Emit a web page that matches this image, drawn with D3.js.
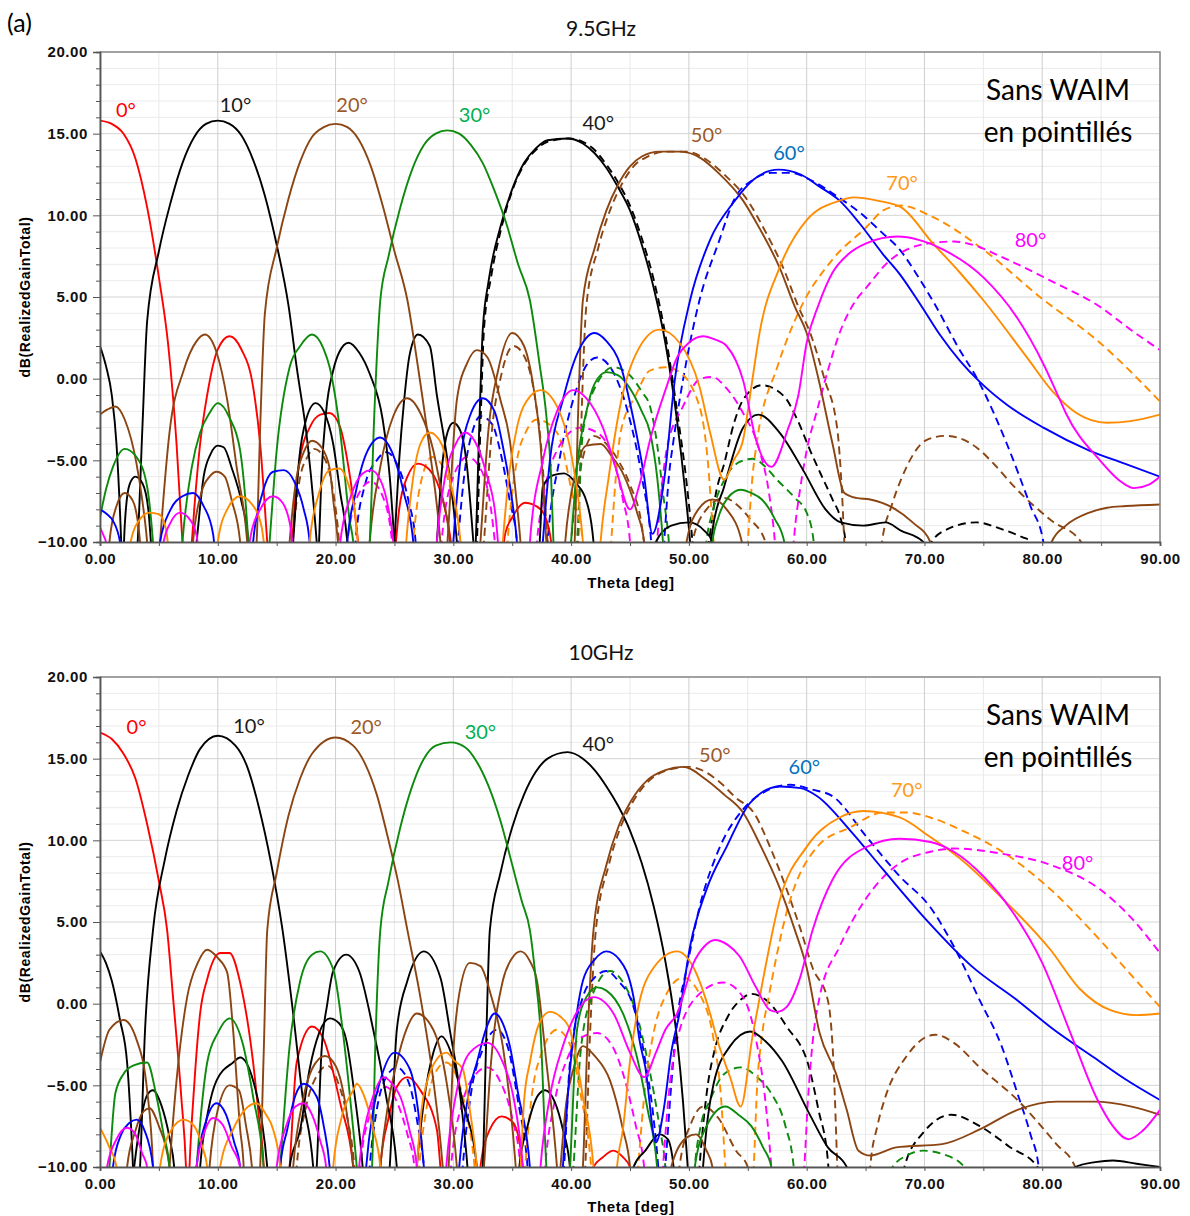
<!DOCTYPE html>
<html><head><meta charset="utf-8">
<script src="https://cdn.jsdelivr.net/npm/d3@7"></script>
<style>body{margin:0;background:#fff;} svg{display:block;}</style>
</head><body><svg id="c" width="1190" height="1216"></svg>
<script>
// ---------- axis / label data ----------
const thetaMajor = [0,10,20,30,40,50,60,70,80,90];
const thetaMinor = [0,5,10,15,20,25,30,35,40,45,50,55,60,65,70,75,80,85,90];
const dbMajor = [-10,-5,0,5,10,15,20];
const dbMinor = d3.range(-10,21,1);
const panelTitles = ["9.5GHz","10GHz"];
const scanLabels = ["0°","10°","20°","30°","40°","50°","60°","70°","80°"];
const topLabelPos = [[2.2,16.0],[11.5,16.3],[21.4,16.3],[31.8,15.7],[42.3,15.2],[51.5,14.5],[58.5,13.4],[68.1,11.55],[79,8.06]];
const botLabelPos = [[3.1,16.5],[12.65,16.6],[22.6,16.5],[32.3,16.2],[42.3,15.5],[52.2,14.8],[59.8,14.06],[68.5,12.65],[83,8.2]];
const noteLines = ["Sans WAIM","en pointillés"];

// ---------- 9.5 GHz (top) : each array = list of lobes of [theta, dB] ----------
const T_red = [
 [[0,15.8],[1,15.6],[2,15.0],[3,13.5],[4,10.5],[5,6.2],[5.8,2],[6.5,-4],[7.0,-10],[7.2,-12]],
 [[7.6,-12],[8.0,-8],[8.5,-4],[9.1,-1],[10,1.8],[11,2.6],[12,1.8],[13,-0.5],[13.6,-4],[14.2,-10],[14.4,-12]],
 [[16.2,-12],[16.5,-8],[17,-4.8],[17.8,-3],[18.7,-2.2],[19.5,-2.1],[20.4,-3],[21,-5],[21.5,-7.4],[22.2,-12]],
 [[24.9,-12],[25.4,-8],[26.1,-6],[27,-5.2],[28,-5.6],[29.1,-7.4],[29.8,-10],[30.1,-12]],
 [[34,-12],[34.4,-9.5],[35,-8.5],[36.1,-7.6],[37.4,-8],[38.2,-9.5],[38.6,-12]]
];
const T_black = [
 [[0,2],[0.5,0.8],[1,-1],[1.4,-4],[1.8,-10],[1.9,-12]],
 [[1.95,-12],[2.1,-9],[2.5,-6.5],[3,-6],[3.6,-6.4],[4.1,-8],[4.5,-12]],
 [[3.0,-12],[3.2,-10],[3.6,-3],[4.0,3.5],[5,7.8],[6,10.8],[7,13.2],[8,14.8],[9,15.6],[10,15.8],[11,15.6],[12,14.9],[13,13.4],[14,11.2],[15,8.2],[16,4.5],[16.7,0.7],[17.6,-3.8],[18.4,-10],[18.6,-12]],
 [[7.9,-12],[8.2,-10],[8.8,-6],[9.4,-4.6],[10,-4.1],[10.5,-4.2],[11.2,-5.5],[12,-7.5],[12.6,-10],[12.8,-12]],
 [[16.2,-12],[16.4,-10],[16.9,-5],[17.5,-2.5],[18.3,-1.5],[19,-2],[19.8,-4],[20.4,-7],[21,-10],[21.2,-12]],
 [[18.5,-12],[18.8,-6],[19.2,-2],[19.8,0.5],[20.3,1.6],[21.1,2.2],[22,1.6],[22.9,0.3],[24,-2.5],[24.6,-6],[25,-10],[25.2,-12]],
 [[24.8,-12],[25,-10],[25.4,-5],[25.8,-1.5],[26.3,1.5],[27,2.7],[28,2],[28.6,-1],[29.5,-5],[30.3,-10],[30.5,-12]],
 [[28.4,-12],[28.6,-10],[29.1,-5],[29.5,-3.3],[30,-2.7],[30.6,-3.2],[31.1,-5],[31.7,-10],[31.9,-12]],
 [[31.7,-12],[31.9,-10],[32.2,-3],[32.5,3],[33,6],[34,9.3],[35,11.6],[36,13.2],[37,14.1],[38,14.6],[39.7,14.7],[41,14.4],[42,13.8],[43,12.9],[44,11.7],[45,10.3],[46,8.2],[47,5.6],[48,2.2],[49,-2.6],[49.7,-7],[50.1,-10],[50.3,-12]],
 [[37.2,-12],[37.4,-9],[37.6,-6.6],[38.5,-5.9],[39.4,-5.8],[40.4,-6.4],[41.3,-7.5],[41.9,-10],[42.1,-12]],
 [[46.8,-12],[47.2,-10],[48.5,-9],[50,-8.8],[51.3,-9.3],[52,-10],[52.3,-12]],
 [[51.6,-12],[52,-9.3],[53,-6.6],[54.6,-3],[55.9,-2.2],[57.7,-3.3],[59.7,-5.6],[61.6,-8],[62.9,-8.8],[64.8,-9],[66.7,-8.8],[68,-9.3],[69.9,-10],[70.2,-12]]
];
const T_black_d = [
 [[31.8,-12],[32,-10],[32.3,-3],[32.6,3],[33.2,6.2],[34,9],[35,11.5],[36,13.1],[37,14],[38,14.5],[39.8,14.7],[41,14.5],[42,14],[43,13.1],[44,12],[45,10.6],[46,8.6],[47,6.1],[48,2.7],[49,-2],[49.9,-7],[50.3,-10],[50.5,-12]],
 [[51.3,-12],[51.7,-10],[52.3,-7],[53,-5.2],[53.8,-2.8],[54.6,-1.3],[56.2,-0.4],[58.1,-1.1],[59.2,-2.5],[60.3,-4.4],[61.3,-6],[62.2,-7.4],[62.9,-8.6],[63.3,-10],[63.5,-12]],
 [[70.3,-12],[70.6,-10],[72,-9.2],[74.4,-8.8],[76.5,-9.2],[78.3,-9.7],[79.1,-10],[79.3,-12]]
];
const T_brown = [
 [[0,-2.2],[0.6,-1.9],[1.3,-1.7],[2.1,-2.5],[3.1,-5.2],[3.6,-7.5],[4,-10],[4.2,-12]],
 [[0.6,-12],[0.8,-10],[1.4,-7.8],[2.1,-7],[2.8,-7.5],[3.4,-10],[3.6,-12]],
 [[4.9,-12],[5.1,-10],[5.9,-3.3],[7.1,0.5],[8.2,2.3],[8.9,2.7],[9.9,1.6],[10.8,-1.3],[11.6,-5.4],[12.5,-10],[12.7,-12]],
 [[7.7,-12],[7.9,-10],[8.6,-7],[9.3,-6],[9.9,-5.7],[10.6,-6],[11.2,-7.5],[11.9,-10],[12.1,-12]],
 [[13.1,-12],[13.3,-10],[13.6,-3],[14,4],[15,8],[16,11],[17,13.3],[18,14.8],[19,15.4],[20,15.6],[21,15.4],[22,14.6],[23,13],[24,10.6],[25,7.8],[26.1,4.8],[27,0.7],[28,-4.4],[28.9,-10],[29.1,-12]],
 [[15.9,-12],[16.1,-10],[16.7,-6],[17.3,-4.5],[18,-3.8],[18.8,-4.2],[19.5,-5.5],[19.8,-7.4],[20.2,-10],[20.4,-12]],
 [[22.7,-12],[22.9,-10],[23.8,-5.4],[24.9,-2.3],[26.1,-1.2],[27.2,-2.1],[28.3,-4.4],[29,-7],[29.7,-10],[29.9,-12]],
 [[29.3,-12],[29.5,-10],[30.3,-1.3],[31.2,1],[32,1.75],[32.9,1.3],[34,-1.3],[34.8,-3.8],[35.3,-7],[35.7,-10],[35.9,-12]],
 [[32.1,-12],[32.3,-10],[33,-3],[33.8,0.5],[35,2.8],[36,2],[36.8,-0.5],[37.4,-4],[37.9,-10],[38.1,-12]],
 [[39.3,-12],[39.5,-10],[40.3,-6],[41.3,-4.1],[42.5,-4],[43.5,-4.8],[44.4,-5.8],[45.6,-8.2],[46.2,-10],[46.4,-12]],
 [[40.1,-12],[40.3,-10],[40.6,-2],[41,4.8],[42,8],[43,10.3],[44,11.9],[45,13],[46,13.6],[47.5,13.9],[49.3,13.9],[51,13.5],[52.5,12.6],[54.6,10.9],[56,9.2],[57.7,6.8],[59,4.4],[60,2.8],[61,0],[62.2,-4],[63.2,-7],[64.2,-7.3],[65.4,-7.4],[67.3,-7.9],[69,-8.8],[70.5,-10],[70.7,-12]],
 [[49.5,-12],[49.8,-10],[50.8,-8],[52,-7.4],[53.2,-8],[54.5,-10],[54.7,-12]],
 [[80.5,-12],[80.8,-10],[82,-9],[84,-8.2],[85.5,-7.9],[87.1,-7.8],[90,-7.7]]
];
const T_brown_d = [
 [[40.4,-12],[40.6,-10],[40.9,-2],[41.3,4.5],[42.3,8],[43.3,10.3],[44.3,11.9],[45.3,13],[46.5,13.6],[48,13.9],[49.8,13.9],[51.5,13.4],[53,12.5],[55,10.9],[56.5,9],[58,6.8],[59.3,4.4],[60.3,2.8],[61.5,0],[62.6,-3.1],[63,-7],[63.2,-10],[63.4,-12]],
 [[66.2,-12],[66.4,-10],[67.2,-7.8],[68,-6.2],[70.2,-3.75],[71.8,-3.5],[74.4,-4.2],[76,-5.3],[77.6,-6.6],[80.8,-8.7],[83.3,-10],[83.6,-12]],
 [[49.9,-12],[50.3,-10],[51.5,-8],[53,-7.3],[54.2,-7.8],[55.2,-8.6],[56.5,-10],[56.7,-12]],
 [[32.4,-12],[32.6,-10],[33.3,-3],[34,0],[35.1,2],[36,1.4],[36.9,-1],[37.5,-4.5],[38,-10],[38.2,-12]],
 [[39.8,-12],[40,-10],[40.8,-5.5],[41.9,-3.5],[43,-4],[44,-5],[45,-6.5],[46,-9],[46.5,-12]],
 [[16,-12],[16.3,-10],[17,-6],[17.6,-4.8],[18.2,-4.3],[19,-4.8],[19.7,-6.5],[20.3,-10],[20.5,-12]]
];
const T_green = [
 [[0,-8.5],[0.5,-6.8],[1.1,-5.4],[2.1,-4.3],[3.1,-4.8],[4,-6.6],[4.5,-10],[4.7,-12]],
 [[6.8,-12],[7,-10],[7.8,-5.4],[8.5,-3.3],[9.3,-2.1],[10,-1.5],[11,-2.4],[11.9,-4.4],[12.3,-7],[12.6,-10],[12.8,-12]],
 [[14.2,-12],[14.4,-10],[15,-4.4],[16.1,0.7],[17,2],[18,2.7],[19,1.8],[19.5,0.7],[20.4,-3.3],[21.2,-8.7],[21.5,-10],[21.7,-12]],
 [[22.7,-12],[22.9,-10],[23.3,-2],[23.8,4.8],[24.5,7.5],[25.5,10.5],[26.5,12.8],[27.5,14.3],[28.5,15],[29.5,15.2],[30.5,15],[31.5,14.3],[32.5,13.2],[33.5,11.5],[34.5,9.5],[35.5,7],[36.5,4.8],[37.3,1],[37.9,-2.3],[38.3,-6],[38.5,-10],[38.7,-12]],
 [[39.8,-12],[40,-10],[40.5,-5.4],[41.3,-2],[42,-0.3],[43,0.4],[44,0.2],[45,-0.6],[46,-2],[46.7,-3.3],[47.3,-6],[47.8,-10],[48,-12]],
 [[51.8,-12],[52,-10],[52.5,-8.5],[53.3,-7.3],[54.4,-6.8],[55.3,-7],[56.2,-7.4],[57.3,-8.6],[58.1,-10],[58.3,-12]]
];
const T_green_d = [
 [[40.3,-12],[40.5,-10],[41,-3.3],[42.2,-0.3],[43.6,0.7],[45,0.2],[46,-0.8],[46.7,-1.7],[47.3,-4],[47.8,-7],[48.3,-10],[48.5,-12]],
 [[51.3,-12],[51.5,-10],[52,-8.2],[53,-6.2],[54.3,-5.1],[55.4,-4.9],[56.5,-5.4],[57.5,-6.2],[59,-7.3],[60,-8.2],[60.6,-10],[60.8,-12]]
];
const T_blue = [
 [[0,-8],[0.6,-8.3],[1.1,-8.7],[1.7,-10],[1.9,-12]],
 [[4.9,-12],[5.1,-10],[6,-8],[7,-7.2],[7.9,-7],[8.8,-7.8],[9.6,-9.5],[9.9,-12]],
 [[12.8,-12],[13,-10],[13.8,-7],[14.7,-5.7],[15.6,-5.6],[16.5,-6.3],[17.3,-8],[17.8,-10],[18,-12]],
 [[20.8,-12],[21,-10],[21.7,-7],[22.6,-4.6],[23.8,-3.6],[24.8,-4.5],[25.8,-7],[26.6,-10],[26.8,-12]],
 [[29.8,-12],[30,-10],[30.6,-5],[31.4,-2.3],[32.5,-1.2],[33.5,-2],[34.3,-4.5],[35,-7.5],[35.4,-10],[35.6,-12]],
 [[37.4,-12],[37.6,-10],[38.2,-5],[39.3,-1.3],[40.5,1.5],[42,2.8],[43,2.3],[44.2,0.8],[45.3,-2.5],[46.2,-6],[46.9,-9.5],[47.9,-6.2],[48.8,-0.1],[50.1,4.8],[51.8,8.5],[53.8,10.8],[55.5,12.2],[57.6,12.8],[59.5,12.5],[61,11.8],[62.8,10.9],[64.5,9.5],[66.5,7.6],[67.9,6.4],[69.6,4.6],[71.3,2.7],[73,1.1],[74.7,-0.2],[77,-1.6],[80.1,-3],[84,-4.4],[87,-5.2],[90,-6]]
];
const T_blue_d = [
 [[21.5,-12],[21.7,-10],[22.5,-6.5],[23.5,-5],[24.3,-4.5],[25.2,-5.2],[26.2,-7.5],[26.8,-10],[27,-12]],
 [[30.2,-12],[30.4,-10],[31,-5.5],[31.6,-3.3],[32.3,-2.3],[33.3,-2.8],[34,-4.5],[34.8,-7.5],[35.4,-10],[35.6,-12]],
 [[37.8,-12],[38,-10],[39,-5],[40.3,-1],[41.2,0.7],[42.2,1.3],[43.5,0.5],[44.8,-2],[46,-6],[46.8,-10],[47,-12]],
 [[47.7,-12],[47.9,-10],[48.3,-6],[48.7,-3.75],[49.8,1.1],[50.9,4.8],[52.6,8.5],[53.8,10.9],[55.5,12.2],[57,12.6],[58.6,12.6],[60.5,12.1],[62.5,11.2],[64.8,10.0],[66.3,9],[67.9,7.9],[69.5,6.2],[71,4.4],[72.8,2],[74.7,-0.3],[77,-4],[79,-7.8],[80.1,-10],[80.3,-12]]
];
const T_orange = [
 [[2.4,-12],[2.6,-10],[3.4,-8.6],[4.2,-8.2],[5,-8.3],[5.6,-9.2],[6,-12]],
 [[9.8,-12],[10,-10],[10.8,-8],[11.9,-7.2],[12.8,-7.6],[13.7,-9],[14.2,-12]],
 [[17.6,-12],[17.8,-10],[18.6,-7],[19.5,-5.6],[20.3,-5.5],[21.1,-6.5],[21.7,-8.5],[22.1,-12]],
 [[25.8,-12],[26,-10],[26.6,-6],[27.2,-4],[28,-3.3],[29,-4],[29.8,-6.5],[30.6,-10],[30.8,-12]],
 [[34,-12],[34.2,-10],[34.8,-5.5],[35.4,-3],[36.5,-1.1],[37.4,-0.7],[38.8,-1.7],[40.2,-5.4],[41,-10],[41.2,-12]],
 [[42.3,-12],[42.5,-10],[43.2,-6],[44.1,-1.9],[45.5,1.5],[47.5,3],[49.2,2.2],[50.9,-0.5],[51.8,-3.3],[53,-6.2],[53.8,-5],[54.6,-3.75],[55.3,-0.5],[56,2.8],[57.7,6.8],[60,9.7],[62.8,10.9],[64,11.1],[66,10.9],[68,10.5],[70.7,8.3],[73,6.5],[75,4.8],[78.7,1.3],[80.9,-0.8],[82.9,-2.1],[85.5,-2.7],[87.5,-2.6],[90,-2.2]]
];
const T_orange_d = [
 [[26.4,-12],[26.6,-10],[27.2,-6.5],[28.2,-4.8],[29.2,-5.5],[30,-7.5],[30.6,-10],[30.8,-12]],
 [[34.4,-12],[34.6,-10],[35.4,-5],[36.2,-3.2],[37.1,-2.5],[38.8,-3.3],[40.2,-7.4],[41,-10],[41.2,-12]],
 [[43.2,-12],[43.4,-10],[43.8,-6],[44.2,-3.3],[45.5,-1],[46.7,0.5],[48,0.7],[49,0.5],[50.9,-1.7],[51.6,-5],[52.1,-10],[52.3,-12]],
 [[54.8,-12],[55,-10],[55.4,-6],[55.8,-3.75],[57.5,0.7],[59.4,4.2],[62.2,7.3],[65.1,9.3],[66.5,10.3],[68,10.6],[70.7,9.9],[75,7.9],[79.8,5],[84.9,2.2],[90,-1.4]]
];
const T_magenta = [
 [[0,-9.1],[0.3,-9.6],[0.5,-10],[0.7,-12]],
 [[5.2,-12],[5.4,-10],[6,-8.8],[6.8,-8.2],[7.6,-8.6],[8.2,-9.6],[8.5,-12]],
 [[12.5,-12],[12.7,-10],[13.6,-8],[14.7,-7.2],[15.5,-7.6],[16.2,-9.2],[16.5,-12]],
 [[20.2,-12],[20.4,-10],[21.3,-7.2],[22.3,-5.8],[23,-5.6],[23.8,-6.2],[24.5,-8],[24.9,-10],[25.1,-12]],
 [[28.4,-12],[28.6,-10],[29.3,-6],[30.2,-4],[31,-3.3],[31.8,-3.8],[32.8,-5.8],[33.6,-8.5],[34,-12]],
 [[36.3,-12],[36.5,-10],[37.6,-5],[38.8,-2],[40.2,-0.7],[41.3,-1.2],[42.7,-3],[43.8,-5.5],[45,-8],[45.8,-6.5],[46.7,-3.75],[48.1,-0.5],[49,1.3],[50,2.2],[51.2,2.6],[52.2,2.4],[53.2,2],[54.6,-0.1],[55.7,-3.75],[57,-5.4],[58.4,-3.1],[59.3,-1],[60,2.2],[61,4.5],[62.2,6.5],[63.5,7.6],[65.1,8.3],[67.7,8.7],[69.5,8.5],[71.6,7.9],[75,6.2],[77.8,3.8],[80.1,0.9],[81.5,-1.3],[82,-2.1],[84.9,-5],[86.5,-6.2],[87.8,-6.7],[89,-6.5],[90,-6]]
];
const T_magenta_d = [
 [[20.7,-12],[21,-10],[22,-7],[23,-6.3],[24,-7.2],[24.8,-10],[25,-12]],
 [[28.8,-12],[29,-10],[30,-6],[31.2,-4.8],[32.3,-5.5],[33.2,-8],[33.8,-12]],
 [[36.9,-12],[37.1,-10],[37.6,-7.4],[38.8,-4.4],[40.8,-3],[42.2,-3.3],[43.6,-5],[44.4,-7.4],[45,-10],[45.2,-12]],
 [[47.1,-12],[47.3,-10],[48.1,-4.4],[49.5,-1.7],[51,0],[52,0.1],[53.2,-0.6],[54.6,-2.1],[56,-4.4],[56.8,-7],[57.3,-10],[57.5,-12]],
 [[58.7,-12],[58.9,-10],[59.5,-6.5],[60,-4.4],[60.9,-1.9],[61.8,0.5],[62.8,2.8],[64,4.6],[65.1,5.6],[67,7.2],[68.5,7.9],[70.5,8.3],[72.5,8.4],[74.5,8.1],[76.4,7.5],[78.5,6.8],[80.7,6],[84.9,4.4],[87.5,3],[90,1.75]]
];

// ---------- 10 GHz (bottom) ----------
const B_red = [
 [[0,16.6],[1,16.2],[2,15.3],[3,13.8],[4,11],[5,7.5],[5.7,4.5],[6.2,0.4],[6.9,-5.7],[7.3,-10],[7.4,-12]],
 [[7.5,-12],[7.6,-10],[8,-5],[8.5,-0.6],[9.1,1.5],[10.2,3.1],[11,3.1],[11.9,1.3],[13,-3.6],[13.5,-7],[13.9,-10],[14,-12]],
 [[15.9,-12],[16.1,-10],[16.7,-3.6],[18,-1.4],[19,-2.2],[20.4,-6.1],[21.5,-10],[21.7,-12]],
 [[23.6,-12],[23.8,-10],[24.5,-7],[25.2,-5.1],[26.1,-4.5],[27.2,-5.3],[28.6,-7.7],[28.9,-10],[29.1,-12]],
 [[32.1,-12],[32.3,-10],[33.1,-7.7],[34.1,-6.9],[35.1,-7.3],[35.9,-10],[36.1,-12]],
 [[41.7,-12],[41.9,-10],[42.7,-9.4],[43.6,-9],[44.4,-9.4],[45,-10],[45.2,-12]]
];
const B_black = [
 [[0,3.2],[0.5,2.5],[1,1.4],[1.7,-1],[2.3,-3.6],[2.6,-7],[2.8,-10],[2.9,-12]],
 [[2.6,-12],[2.9,-10],[3.5,-7],[4.0,-5.6],[4.5,-5.3],[5.2,-6.2],[5.9,-8.2],[6.3,-10],[6.5,-12]],
 [[3.2,-12],[3.4,-10],[3.8,-2],[4.5,4.5],[5.5,8.8],[6.5,11.8],[7.5,14],[8.5,15.6],[10,16.4],[11.5,15.8],[12.5,14.5],[13.5,12],[14.5,8.7],[15.5,4.5],[16.4,-0.6],[17.2,-5.7],[18.1,-10],[18.3,-12]],
 [[8.3,-12],[8.5,-10],[9.2,-6.5],[9.9,-4.7],[11.3,-3.6],[11.9,-3.3],[13,-4.7],[13.7,-7],[14.2,-10],[14.4,-12]],
 [[15.9,-12],[16.1,-10],[17,-7.7],[17.8,-4],[18.6,-1.8],[19.5,-0.9],[20.3,-1.2],[20.9,-2.2],[21.6,-5.5],[22.3,-10],[22.5,-12]],
 [[18.2,-12],[18.4,-10],[18.8,-3],[19.3,0],[19.8,2],[20.9,3],[22,2],[23.2,-1.6],[24.3,-5.7],[25.2,-10],[25.4,-12]],
 [[24.4,-12],[24.6,-10],[25.2,-1.6],[26.1,1.4],[27.5,3.2],[28.9,1.6],[29.7,-1.6],[30.6,-5.7],[31.2,-10],[31.4,-12]],
 [[26.7,-12],[26.9,-10],[27.5,-6],[28.3,-3],[29,-2],[29.8,-3],[30.8,-6],[32,-10],[32.2,-12]],
 [[32.3,-12],[32.5,-10],[32.8,-2],[33.1,4.5],[34,8],[35,10.8],[36,12.8],[37,14.2],[38,15],[39.7,15.4],[41,15.0],[42,14.3],[43,13.3],[44,12.1],[45,10.6],[46,8.6],[47,6],[48,2.6],[49,-2.2],[49.5,-6],[49.9,-10],[50.1,-12]],
 [[35.4,-12],[35.6,-10],[36.3,-7.5],[37.2,-5.6],[37.8,-5.3],[38.6,-6],[39.3,-7.7],[39.9,-10],[40.1,-12]],
 [[45.1,-12],[45.3,-10],[46.3,-9],[47.5,-8],[48.2,-8.3],[48.7,-10],[48.9,-12]],
 [[51,-12],[51.2,-10],[51.6,-7],[52.1,-4.9],[53.5,-2.6],[55.2,-1.7],[56.5,-2.3],[57.9,-3.5],[60.2,-6.7],[61.8,-8.8],[63.4,-10],[63.6,-12]],
 [[82.6,-12],[82.8,-10],[84.5,-9.7],[86,-9.6],[88,-9.8],[90,-10]]
];
const B_black_d = [
 [[50.7,-12],[50.9,-10],[51.6,-5],[52.2,-2.8],[53.3,-0.8],[54.5,0.3],[55.3,0.6],[56.6,0.2],[58.3,-1.4],[60.2,-3.9],[61,-6.5],[61.8,-9.6],[62,-12]],
 [[68.1,-12],[68.3,-10],[69.9,-7.9],[72.3,-6.8],[74.7,-7.5],[77.3,-8.8],[79.6,-10],[79.8,-12]]
];
const B_brown = [
 [[0,-3.6],[0.8,-1.6],[2,-1],[3.1,-2.2],[4,-5.3],[4.5,-10],[4.6,-12]],
 [[2.1,-12],[2.3,-10],[3,-7.8],[3.7,-6.6],[4.2,-6.4],[5,-7.5],[5.9,-10],[6.1,-12]],
 [[5.7,-12],[5.9,-10],[6.5,-4.7],[7.4,0.4],[8.3,2.5],[9.1,3.3],[10,2.8],[10.8,1.9],[11.3,-1.6],[11.9,-7.7],[12.2,-10],[12.3,-12]],
 [[9.1,-12],[9.3,-10],[10,-6.5],[11,-5],[11.8,-5.3],[12.4,-7.5],[12.9,-10],[13.1,-12]],
 [[13.4,-12],[13.6,-10],[13.9,-3],[14.2,4.5],[15,8],[16,11.5],[17,13.8],[18,15.3],[20,16.3],[21.5,15.8],[22.5,14.7],[23.5,12.8],[24.5,10],[25.3,7.5],[26.1,4.5],[27.2,0.4],[28.3,-4.7],[29.1,-10],[29.3,-12]],
 [[16.2,-12],[16.4,-10],[17.2,-6],[18,-4],[19.1,-3.2],[20,-3.8],[20.8,-6],[21.5,-10],[21.7,-12]],
 [[23.6,-12],[23.8,-10],[24.5,-6],[25.2,-3.6],[26,-1.6],[26.9,-0.6],[28.3,-1.6],[29.4,-4.7],[30.3,-10],[30.5,-12]],
 [[29.4,-12],[29.6,-10],[30,-3],[30.5,0.6],[31.4,2.5],[32.3,2.3],[33.2,0.5],[34.2,-2.6],[34.8,-6],[35.3,-10],[35.5,-12]],
 [[32.4,-12],[32.6,-10],[33.2,-3.6],[34.2,1.4],[35,2.8],[35.7,3.2],[36.5,2.6],[37.1,1.4],[37.9,-3.6],[38.8,-10],[39,-12]],
 [[38.9,-12],[39.1,-10],[39.6,-6],[40.2,-4],[41,-2.6],[42,-3.2],[43.3,-4.7],[44.4,-7.7],[45,-10],[45.2,-12]],
 [[40.8,-12],[41,-10],[41.4,-2],[41.9,4.5],[43,8.5],[44,10.8],[45,12.3],[46.5,13.7],[48,14.3],[49.5,14.5],[51.5,13.7],[53,12.8],[54.6,11.7],[56,9.8],[57.7,7.1],[59,4.5],[60,2.2],[61.1,-1.8],[62.5,-4.3],[63.4,-6.5],[64.4,-9],[65.4,-9.3],[67.6,-8.8],[71.5,-8.6],[74.7,-7.7],[77.9,-6.5],[81.2,-6],[84.4,-6],[87.6,-6.3],[90,-6.8]],
 [[48.3,-12],[48.5,-10],[49.8,-8.2],[50.6,-8],[51.5,-9],[52,-10],[52.2,-12]]
];
const B_brown_d = [
 [[41.0,-12],[41.2,-10],[41.6,-2],[42.1,4.5],[43.2,8.5],[44.2,10.8],[45.2,12.3],[46.7,13.7],[48.2,14.3],[50,14.5],[52.4,13.7],[54,12.6],[55.5,11.7],[57,9.4],[58.3,7],[59.5,4.5],[60.5,2.2],[61.8,0.2],[62.3,-4],[62.6,-10],[62.7,-12]],
 [[65.2,-12],[65.4,-10],[66,-7.5],[66.6,-5.9],[68.5,-3.2],[70.9,-1.9],[72.5,-2.4],[74.7,-3.9],[77.9,-5.9],[81.2,-8.6],[82.8,-10],[83,-12]],
 [[49,-12],[49.2,-10],[50.2,-7.3],[51.2,-6.3],[52.5,-7],[54,-9],[55,-10],[55.2,-12]],
 [[16.5,-12],[16.7,-10],[17.5,-6.3],[18.5,-4.3],[19.3,-3.8],[20.2,-4.8],[21,-7],[21.6,-10],[21.8,-12]]
];
const B_green = [
 [[0.6,-12],[0.8,-10],[1.3,-5.5],[2,-4.3],[2.8,-3.8],[4,-3.6],[4.8,-5.7],[5.4,-8],[5.9,-10],[6.1,-12]],
 [[8,-12],[8.2,-10],[9.1,-3.6],[10,-1.8],[11,-0.9],[12.1,-2.4],[13,-5.7],[13.9,-10],[14.1,-12]],
 [[15.1,-12],[15.3,-10],[16.1,-2.6],[17,1.4],[18,3],[18.7,3.2],[19.8,2.1],[20.6,-1.6],[21.5,-7.7],[21.8,-10],[22,-12]],
 [[22.9,-12],[23.1,-10],[23.4,-2],[23.8,4.5],[24.5,7.5],[25.5,10.8],[26.5,13.3],[27.5,15],[28.5,15.8],[29.8,16],[31,15.7],[32,14.8],[33,13.3],[34,11.2],[35,8.5],[35.8,6.3],[36.5,4.5],[37,1.5],[37.4,-1.6],[37.9,-10],[38.1,-12]],
 [[39.7,-12],[39.9,-10],[40.5,-1.6],[41.3,0.4],[42.2,1],[43,0.8],[44.4,-0.6],[45.6,-3.3],[46.5,-6.5],[47.3,-10],[47.5,-12]],
 [[50.3,-12],[50.5,-10],[51.5,-7.5],[53.1,-6.3],[54.2,-6.8],[55.3,-7.5],[56.3,-8.8],[57,-10],[57.2,-12]]
];
const B_green_d = [
 [[40,-12],[40.2,-10],[40.8,-3],[41.8,0.5],[43.3,2],[44.5,1.2],[45.5,-0.5],[46.5,-3.5],[47.5,-7.5],[48,-10],[48.2,-12]],
 [[50.3,-12],[50.5,-10],[51,-7.5],[51.8,-5.9],[53,-4.3],[54.4,-3.9],[55.8,-4.5],[57,-5.5],[58.2,-7.5],[58.9,-10],[59.1,-12]],
 [[67.1,-12],[67.3,-10],[68.5,-9.3],[69.9,-9],[71.5,-9.2],[73.4,-10],[73.6,-12]]
];
const B_blue = [
 [[0.9,-12],[1.1,-10],[1.8,-8],[2.5,-7.3],[3.1,-7.1],[3.8,-7.8],[4.5,-10],[4.7,-12]],
 [[8,-12],[8.2,-10],[9,-7.2],[9.9,-6.1],[10.7,-6.8],[11.4,-8.5],[11.9,-10],[12.1,-12]],
 [[15.1,-12],[15.3,-10],[15.9,-7.7],[16.6,-5.6],[17.3,-4.9],[18.4,-5.7],[19,-7.5],[19.5,-10],[19.7,-12]],
 [[22.4,-12],[22.6,-10],[23.2,-6.5],[23.8,-4.7],[25,-3],[26.3,-4],[27,-6.5],[27.5,-10],[27.7,-12]],
 [[30.3,-12],[30.5,-10],[31.3,-5.5],[32,-3.6],[32.8,-1.5],[33.5,-0.6],[34.2,-1.2],[34.8,-2.6],[35.5,-5.5],[36.5,-10],[36.7,-12]],
 [[39.1,-12],[39.3,-10],[39.9,-4],[40.5,-0.5],[41,1.4],[42,2.7],[43,3.2],[44.1,2.7],[45.3,0.4],[45.8,-2.2],[46.3,-3.9],[47.2,-8.5],[47.9,-6.3],[48.5,-3],[49.2,-0.6],[50.1,3.5],[51.5,7],[53.2,9.6],[55.2,12.3],[57.7,13.3],[59.5,13.2],[60.9,12.7],[63.7,10.6],[66.5,8.2],[70.2,5.1],[74,2.3],[77.9,0.2],[81,-1.6],[84.4,-3.3],[87,-4.6],[90,-5.9]]
];
const B_blue_d = [
 [[22.7,-12],[22.9,-10],[23.5,-6.5],[24.3,-4.5],[25.2,-3.9],[26.2,-4.8],[27,-7.5],[27.5,-10],[27.7,-12]],
 [[30.6,-12],[30.8,-10],[31.5,-5.5],[32.5,-2.8],[33.7,-1.6],[34.6,-2.6],[35.5,-6],[36.3,-10],[36.5,-12]],
 [[39.2,-12],[39.4,-10],[39.9,-3.6],[41,0.4],[42,1.6],[43,2],[44,1.4],[45.3,-0.2],[46.3,-3.5],[47,-7],[47.4,-10],[47.6,-12]],
 [[47.8,-12],[48,-10],[48.5,-5],[49,-1],[49.8,2.1],[50.9,5.9],[52.4,9.2],[54.6,11.9],[56.5,13],[58.6,13.4],[60.5,13.1],[62.2,12.7],[65.1,10.2],[67.9,7.8],[70.5,5.9],[72.5,3.5],[74.7,0.2],[76.5,-2.5],[77.9,-5.5],[79,-8],[79.7,-10],[79.9,-12]]
];
const B_orange = [
 [[0,-7.6],[0.8,-8.8],[1.4,-10],[1.6,-12]],
 [[4.9,-12],[5.1,-10],[6,-7.8],[7.1,-7.1],[8,-7.5],[8.7,-8.8],[9.1,-10],[9.3,-12]],
 [[10,-12],[10.2,-10],[11.3,-7.7],[12.3,-6.5],[13.3,-6.1],[14.1,-6.8],[14.7,-7.7],[15.3,-10],[15.5,-12]],
 [[19.6,-12],[19.8,-10],[20.5,-7],[21.5,-5.3],[21.8,-4.9],[22.5,-5.8],[23.2,-7.7],[23.8,-10],[24,-12]],
 [[26.7,-12],[26.9,-10],[27.3,-6.5],[27.8,-4.7],[28.6,-3.4],[29.4,-3],[30.1,-3.5],[30.8,-4],[31.4,-6.5],[32,-10],[32.2,-12]],
 [[35.5,-12],[35.7,-10],[36,-6],[36.5,-3.6],[37.3,-1.2],[38.2,-0.5],[39.1,-0.8],[39.9,-1.6],[41,-5.7],[41.9,-10],[42.1,-12]],
 [[43.7,-12],[43.9,-10],[44.4,-7.7],[45,-3.5],[45.6,-0.6],[47,2.2],[49,3.2],[50.4,2.2],[51.8,-0.6],[52.4,-2.2],[53.5,-4.5],[54.4,-6.3],[55.4,-2],[56.3,1.5],[57.7,6.3],[60,9.6],[62.8,11.4],[64.8,11.8],[67.9,11.4],[70.5,10.2],[73.5,8.6],[76.4,6.6],[80.7,3.3],[83.2,0.9],[85.8,-0.4],[88,-0.7],[90,-0.6]]
];
const B_orange_d = [
 [[26.9,-12],[27.1,-10],[27.7,-6.5],[28.4,-4.3],[29.4,-3.6],[30.3,-4.5],[31.2,-7],[31.8,-10],[32,-12]],
 [[35.9,-12],[36.1,-10],[36.6,-6],[37.5,-3],[38.8,-1.6],[39.9,-2.5],[40.8,-5.5],[41.7,-10],[41.9,-12]],
 [[45.5,-12],[45.7,-10],[46.3,-5],[47,-1.8],[48.1,0.6],[49.5,1.6],[50.9,0.6],[52.1,-2.2],[52.7,-5.5],[53.1,-10],[53.3,-12]],
 [[55.3,-12],[55.5,-10],[55.8,-5],[56.2,-2],[56.8,0.5],[58.3,5.6],[60.9,9.6],[63.7,10.8],[66.5,11.7],[68.5,11.7],[70.5,11.4],[73.5,10.5],[76.4,9.4],[80.7,7],[84.9,3.9],[87.5,1.8],[90,-0.2]]
];
const B_magenta = [
 [[0.4,-12],[0.6,-10],[1.4,-8.3],[2.3,-7.6],[3,-8],[3.6,-9.2],[4,-10],[4.2,-12]],
 [[8,-12],[8.2,-10],[8.9,-7.8],[9.6,-7],[10.4,-7.4],[11.2,-8.8],[11.9,-10],[12.1,-12]],
 [[14.8,-12],[15,-10],[15.8,-7.5],[16.6,-6.3],[17.3,-6.1],[18,-6.8],[18.7,-8.4],[19.2,-10],[19.4,-12]],
 [[21.8,-12],[22,-10],[22.5,-7.5],[23,-6.1],[24.1,-4.5],[24.8,-4.9],[25.5,-5.7],[26.3,-7.8],[26.9,-10],[27.1,-12]],
 [[29.2,-12],[29.4,-10],[30.3,-5.3],[31.4,-3],[32.9,-2.4],[34.2,-3.6],[35.1,-5.7],[35.9,-10],[36.1,-12]],
 [[37.2,-12],[37.4,-10],[38.2,-5.7],[39.3,-2.6],[40.5,-0.5],[41.9,0.4],[43.6,-0.6],[45,-3],[46.2,-4.5],[47.2,-3],[48,-1.6],[49,-0.6],[50.4,2.5],[51.3,3.5],[52.2,3.9],[53.3,3.6],[54.3,2.9],[55.7,1],[56.9,-0.4],[57.5,-0.5],[58.3,-0.2],[59.4,1.5],[60.5,4.5],[62.2,7.6],[65.1,9.6],[67.9,10.1],[70.5,9.9],[72.5,9.3],[75,7.8],[77.5,5.6],[80,2.5],[82.4,-1.8],[84.7,-5.9],[86,-7.5],[87.3,-8.3],[88.5,-7.8],[90,-6.5]]
];
const B_magenta_d = [
 [[21.9,-12],[22.1,-10],[22.9,-6.8],[23.6,-5.4],[24.3,-5.1],[25.2,-6],[26.1,-8],[26.7,-10],[26.9,-12]],
 [[29.6,-12],[29.8,-10],[30.8,-6],[31.8,-4.4],[32.9,-3.9],[34,-4.8],[35,-7],[35.7,-10],[35.9,-12]],
 [[37.6,-12],[37.8,-10],[38.6,-6],[39.6,-3.5],[40.8,-2.1],[42.2,-1.8],[43.5,-2.6],[44.5,-4.5],[45.5,-7.5],[46.2,-10],[46.4,-12]],
 [[47.6,-12],[47.8,-10],[48.3,-5.5],[49,-2.2],[50.9,0.6],[52.9,1.3],[54.6,0.4],[55.7,-2.2],[56.5,-6],[57,-10],[57.2,-12]],
 [[59.6,-12],[59.8,-10],[60.1,-6],[60.5,-2.4],[61.1,0.4],[62.8,3.5],[65.1,6.5],[67.9,8.6],[70.5,9.3],[72.5,9.5],[76.4,9.2],[80.7,8.5],[84.9,7],[87.5,5.3],[90,3.1]]
];

// ---------- styles ----------
const C = {red:"#ff0000", black:"#000000", brown:"#8b4513", green:"#0c8a0c", blue:"#0000ff", orange:"#ff8c00", magenta:"#ff00ff"};
const labelColors = ["#ff0000","#1a1a1a","#9c5a2a","#00b050","#1a1a1a","#9c5a2a","#0070c0","#ff9a1a","#ff00ff"];

const panels = [
  {top:52, bottom:542, title:panelTitles[0], titleY:36, labels:topLabelPos, noteY:[100,142], xLabY:588,
   dashed:[[T_black_d,C.black],[T_brown_d,C.brown],[T_green_d,C.green],[T_blue_d,C.blue],[T_orange_d,C.orange],[T_magenta_d,C.magenta]],
   solid:[[T_red,C.red],[T_black,C.black],[T_brown,C.brown],[T_green,C.green],[T_blue,C.blue],[T_orange,C.orange],[T_magenta,C.magenta]]},
  {top:677, bottom:1167, title:panelTitles[1], titleY:660, labels:botLabelPos, noteY:[725,767], xLabY:1212,
   dashed:[[B_black_d,C.black],[B_brown_d,C.brown],[B_green_d,C.green],[B_blue_d,C.blue],[B_orange_d,C.orange],[B_magenta_d,C.magenta]],
   solid:[[B_red,C.red],[B_black,C.black],[B_brown,C.brown],[B_green,C.green],[B_blue,C.blue],[B_orange,C.orange],[B_magenta,C.magenta]]}
];

const svg = d3.select("#c");
const L = 100, R = 1160;
const tickFont = "'Liberation Sans', Arial, sans-serif";
const calFont = "Lato, 'Open Sans', sans-serif";

svg.append("text").attr("x",7).attr("y",32).attr("font-family",calFont).attr("font-size",25).attr("fill","#000").text("(a)");

panels.forEach((p,i)=>{
  const x = d3.scaleLinear().domain([0,90]).range([L,R]);
  const y = d3.scaleLinear().domain([-10,20]).range([p.bottom,p.top]);
  const g = svg.append("g");

  // grid
  g.append("g").selectAll("line").data(dbMinor.filter(d=>d%5!==0)).join("line")
    .attr("x1",L).attr("x2",R).attr("y1",d=>y(d)).attr("y2",d=>y(d)).attr("stroke","#ebebeb").attr("stroke-width",1);
  g.append("g").selectAll("line").data(thetaMinor.filter(d=>d%10!==0)).join("line")
    .attr("y1",p.top).attr("y2",p.bottom).attr("x1",d=>x(d)).attr("x2",d=>x(d)).attr("stroke","#e8e8e8").attr("stroke-width",1);
  g.append("g").selectAll("line").data(dbMajor).join("line")
    .attr("x1",L).attr("x2",R).attr("y1",d=>y(d)).attr("y2",d=>y(d)).attr("stroke","#d4d4d4").attr("stroke-width",1);
  g.append("g").selectAll("line").data(thetaMajor).join("line")
    .attr("y1",p.top).attr("y2",p.bottom).attr("x1",d=>x(d)).attr("x2",d=>x(d)).attr("stroke","#cfcfcf").attr("stroke-width",1);

  // clip
  const cid = "clip"+i;
  svg.append("defs").append("clipPath").attr("id",cid).append("rect")
    .attr("x",L).attr("y",p.top-1).attr("width",R-L).attr("height",p.bottom-p.top+1);
  const line = d3.line().x(d=>x(d[0])).y(d=>y(d[1])).curve(d3.curveMonotoneX);
  const cg = g.append("g").attr("clip-path",`url(#${cid})`);
  p.dashed.forEach(([lobes,col])=>{
    cg.append("g").selectAll("path").data(lobes).join("path").attr("d",line)
      .attr("fill","none").attr("stroke",col).attr("stroke-width",1.9).attr("stroke-dasharray","8,5");
  });
  p.solid.forEach(([lobes,col])=>{
    cg.append("g").selectAll("path").data(lobes).join("path").attr("d",line)
      .attr("fill","none").attr("stroke",col).attr("stroke-width",1.9).attr("stroke-linejoin","round");
  });

  // border (top/right)
  g.append("path").attr("d",`M${L},${p.top}H${R}V${p.bottom}`).attr("fill","none").attr("stroke","#8a8a8a").attr("stroke-width",1.5);

  // axes
  const yAxis = g.append("g").attr("transform",`translate(${L},0)`)
    .call(d3.axisLeft(y).tickValues(dbMajor).tickFormat(d3.format(".2f")).tickSize(7).tickPadding(5));
  const yMinor = g.append("g").attr("transform",`translate(${L},0)`)
    .call(d3.axisLeft(y).tickValues(dbMinor.filter(d=>d%5!==0)).tickFormat("").tickSize(4));
  const xAxis = g.append("g").attr("transform",`translate(0,${p.bottom})`)
    .call(d3.axisBottom(x).tickValues(thetaMajor).tickFormat(d3.format(".2f")).tickSize(4).tickPadding(7));
  const xMinor = g.append("g").attr("transform",`translate(0,${p.bottom})`)
    .call(d3.axisBottom(x).tickValues(thetaMinor.filter(d=>d%10!==0)).tickFormat("").tickSize(4));
  [yAxis,yMinor,xAxis,xMinor].forEach(a=>{
    a.select(".domain").attr("stroke","#555").attr("stroke-width",1.5);
    a.selectAll(".tick line").attr("stroke","#555");
    a.selectAll("text").attr("font-family",tickFont).attr("font-weight","bold").attr("font-size",15)
      .attr("letter-spacing","0.6px").attr("fill","#111");
  });

  // axis titles
  g.append("text").attr("x",631).attr("y",p.xLabY).attr("text-anchor","middle")
    .attr("font-family",tickFont).attr("font-weight","bold").attr("font-size",15).attr("letter-spacing","0.6px").text("Theta [deg]");
  g.append("text").attr("transform",`translate(30,${(p.top+p.bottom)/2}) rotate(-90)`).attr("text-anchor","middle")
    .attr("font-family",tickFont).attr("font-weight","bold").attr("font-size",14).attr("letter-spacing","0.6px").text("dB(RealizedGainTotal)");

  // panel title
  g.append("text").attr("x",601).attr("y",p.titleY).attr("text-anchor","middle")
    .attr("font-family",calFont).attr("font-size",21).attr("fill","#111").text(p.title);

  // scan-angle labels
  g.append("g").selectAll("text").data(p.labels).join("text")
    .attr("x",d=>x(d[0])).attr("y",d=>y(d[1])).attr("text-anchor","middle")
    .attr("font-family",calFont).attr("font-size",20).attr("fill",(d,k)=>labelColors[k]).text((d,k)=>scanLabels[k]);

  // note
  g.append("g").selectAll("text").data(noteLines).join("text")
    .attr("x",1058).attr("y",(d,k)=>p.noteY[k]).attr("text-anchor","middle")
    .attr("font-family",calFont).attr("font-size",28).attr("fill","#000").text(d=>d);
});
</script>
</body></html>
